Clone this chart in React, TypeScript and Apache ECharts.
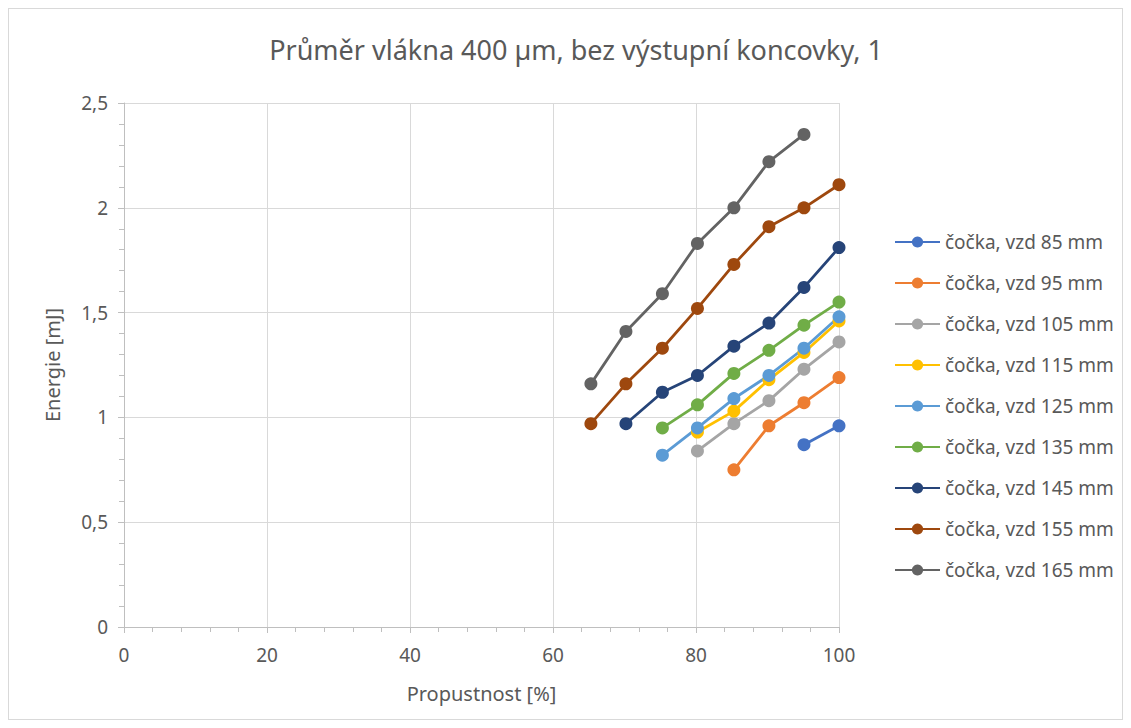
import React, { useEffect, useRef } from "react";
import * as echarts from "echarts";

const seriesNames = [
  "čočka, vzd 85 mm",
  "čočka, vzd 95 mm",
  "čočka, vzd 105 mm",
  "čočka, vzd 115 mm",
  "čočka, vzd 125 mm",
  "čočka, vzd 135 mm",
  "čočka, vzd 145 mm",
  "čočka, vzd 155 mm",
  "čočka, vzd 165 mm",
];
const seriesColors = [
  "#4472C4", "#ED7D31", "#A5A5A5", "#FFC000", "#5B9BD5",
  "#70AD47", "#264478", "#9E480E", "#636363",
];

const xVzd85 = [95.1, 100];
const yVzd85 = [0.87, 0.96];
const xVzd95 = [85.3, 90.2, 95.1, 100];
const yVzd95 = [0.75, 0.96, 1.07, 1.19];
const xVzd105 = [80.2, 85.3, 90.2, 95.1, 100];
const yVzd105 = [0.84, 0.97, 1.08, 1.23, 1.36];
const xVzd115 = [80.2, 85.3, 90.2, 95.1, 100];
const yVzd115 = [0.93, 1.03, 1.18, 1.31, 1.46];
const xVzd125 = [75.3, 80.2, 85.3, 90.2, 95.1, 100];
const yVzd125 = [0.82, 0.95, 1.09, 1.2, 1.33, 1.48];
const xVzd135 = [75.3, 80.2, 85.3, 90.2, 95.1, 100];
const yVzd135 = [0.95, 1.06, 1.21, 1.32, 1.44, 1.55];
const xVzd145 = [70.2, 75.3, 80.2, 85.3, 90.2, 95.1, 100];
const yVzd145 = [0.97, 1.12, 1.2, 1.34, 1.45, 1.62, 1.81];
const xVzd155 = [65.3, 70.2, 75.3, 80.2, 85.3, 90.2, 95.1, 100];
const yVzd155 = [0.97, 1.16, 1.33, 1.52, 1.73, 1.91, 2.0, 2.11];
const xVzd165 = [65.3, 70.2, 75.3, 80.2, 85.3, 90.2, 95.1];
const yVzd165 = [1.16, 1.41, 1.59, 1.83, 2.0, 2.22, 2.35];

const allX = [xVzd85, xVzd95, xVzd105, xVzd115, xVzd125, xVzd135, xVzd145, xVzd155, xVzd165];
const allY = [yVzd85, yVzd95, yVzd105, yVzd115, yVzd125, yVzd135, yVzd145, yVzd155, yVzd165];

const titleText = "Průměr vlákna 400 µm, bez výstupní koncovky, 1";
const xAxisName = "Propustnost [%]";
const yAxisName = "Energie [mJ]";

const FONT = "'Noto Sans', sans-serif";
const TEXT = "#595959";

export default function App() {
  const ref = useRef<HTMLDivElement>(null);
  useEffect(() => {
    if (!ref.current) return;
    const chart = echarts.init(ref.current, null, { renderer: "svg" });
    chart.setOption({
      animation: false,
      backgroundColor: "#ffffff",
      textStyle: { fontFamily: FONT },
      title: {
        text: titleText,
        left: 562,
        top: 22,
        textAlign: "center",
        textStyle: { fontFamily: FONT, fontSize: 27, fontWeight: "normal", color: TEXT },
      },
      legend: {
        orient: "vertical",
        left: 880,
        top: 218,
        itemWidth: 45,
        itemHeight: 14,
        itemGap: 21,
        textStyle: { fontFamily: FONT, fontSize: 19, lineHeight: 20, color: TEXT },
        data: seriesNames,
      },
      grid: { left: 115, right: 283, top: 94, bottom: 92 },
      xAxis: {
        type: "value",
        min: 0,
        max: 100,
        interval: 20,
        name: xAxisName,
        nameLocation: "middle",
        nameGap: 56,
        nameTextStyle: { fontFamily: FONT, fontSize: 20, color: TEXT },
        axisLine: { show: true, lineStyle: { color: "#bfbfbf", width: 1 } },
        axisTick: { show: true, length: 6, lineStyle: { color: "#bfbfbf" } },
        minorTick: { show: true, splitNumber: 5, length: 5, lineStyle: { color: "#bfbfbf" } },
        axisLabel: { fontFamily: FONT, fontSize: 19, color: TEXT, margin: 18 },
        splitLine: { show: true, lineStyle: { color: "#d9d9d9", width: 1 } },
      },
      yAxis: {
        type: "value",
        min: 0,
        max: 2.5,
        interval: 0.5,
        name: yAxisName,
        nameLocation: "middle",
        nameGap: 62,
        nameTextStyle: { fontFamily: FONT, fontSize: 20, color: TEXT },
        axisLine: { show: true, lineStyle: { color: "#bfbfbf", width: 1 } },
        axisTick: { show: true, length: 6, lineStyle: { color: "#bfbfbf" } },
        minorTick: { show: true, splitNumber: 5, length: 5, lineStyle: { color: "#bfbfbf" } },
        axisLabel: {
          fontFamily: FONT,
          fontSize: 19,
          color: TEXT,
          margin: 16,
          formatter: (v: number) => String(v).replace(".", ","),
        },
        splitLine: { show: true, lineStyle: { color: "#d9d9d9", width: 1 } },
      },
      series: seriesNames.map((name, i) => ({
        name,
        type: "line",
        data: allX[i].map((x, j) => [x, allY[i][j]]),
        symbol: "circle",
        symbolSize: 13,
        color: seriesColors[i],
        lineStyle: { width: 2.8, color: seriesColors[i] },
        itemStyle: { color: seriesColors[i] },
      })),
    });
    return () => chart.dispose();
  }, []);
  return (
    <div
      ref={ref}
      style={{ width: 1115, height: 712, boxSizing: "border-box", border: "1px solid #d9d9d9" }}
    />
  );
}
